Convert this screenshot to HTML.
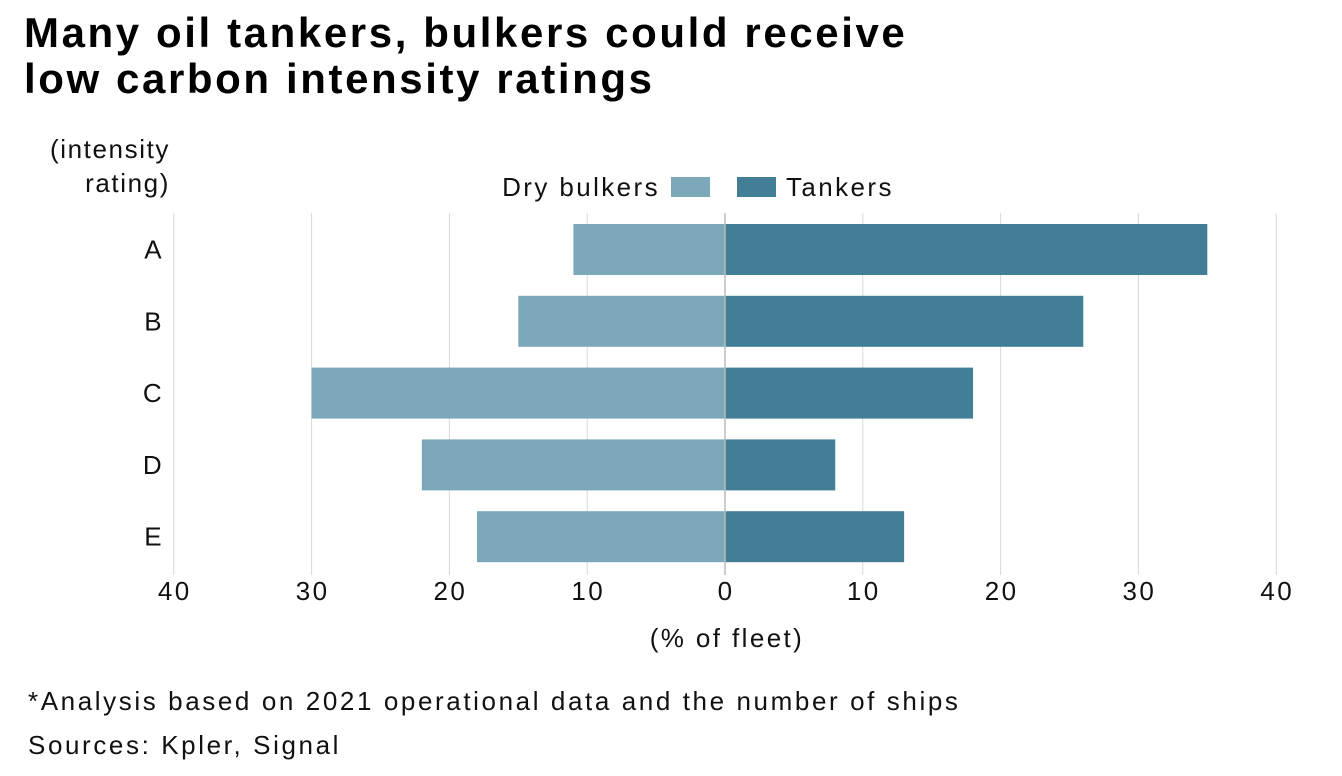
<!DOCTYPE html>
<html><head><meta charset="utf-8"><style>
body{margin:0;background:#fff;width:1342px;height:776px;overflow:hidden;font-family:"Liberation Sans",sans-serif;color:#000}
h1{position:absolute;left:24px;top:10px;margin:0;font-size:42px;line-height:46px;font-weight:bold;letter-spacing:2.6px;white-space:nowrap}
.t{position:absolute;font-size:26px;color:#111;letter-spacing:2.6px;white-space:nowrap}
svg text{letter-spacing:2.4px}
</style></head><body>
<h1>Many oil tankers, bulkers could receive<br>low carbon intensity ratings</h1>
<div class="t" style="left:20px;top:132px;text-align:right;width:150px;line-height:34px;letter-spacing:1.6px">(intensity<br>rating)</div>
<svg id="chart" width="1342" height="776" style="position:absolute;left:0;top:0"></svg>
<div class="t" style="left:28px;top:686px">*Analysis based on 2021 operational data and the number of ships</div>
<div class="t" style="left:28px;top:730px">Sources: Kpler, Signal</div>
<script>
const categories=["A","B","C","D","E"];
const dryBulkers=[11,15,30,22,18];
const tankers=[35,26,18,8,13];
const ticks=[40,30,20,10,0,10,20,30,40];
const tickValues=[-40,-30,-20,-10,0,10,20,30,40];
const NS="http://www.w3.org/2000/svg";
const svg=document.getElementById('chart');
const x0=725,scale=13.78;
function xs(v){return x0+v*scale;}
function yRow(i){return 224+i*71.8;}
const barH=51;
function mk(tag,attrs){const e=document.createElementNS(NS,tag);for(const k in attrs)e.setAttribute(k,attrs[k]);svg.appendChild(e);return e;}
tickValues.forEach((v,i)=>{
  const g=mk('line',{x1:xs(v),x2:xs(v),y1:213,y2:575,stroke:'#d9d9d9','stroke-width':1});
  
  
  const t=mk('text',{x:xs(v)+1,y:600,'text-anchor':'middle','font-size':26,fill:'#111','font-family':'Liberation Sans, sans-serif'});
  t.textContent=ticks[i];
  
  
});
categories.forEach((c,i)=>{
  const y=yRow(i);
  const b1=mk('rect',{x:xs(-dryBulkers[i]),y:y,width:dryBulkers[i]*scale,height:barH,fill:'#7ba9b9'});
  
  
  const b2=mk('rect',{x:x0,y:y,width:tankers[i]*scale,height:barH,fill:'#427f97'});
  
  
  const t=mk('text',{x:164,y:y+barH/2+9,'text-anchor':'end','font-size':26,fill:'#111','font-family':'Liberation Sans, sans-serif'});
  t.textContent=c;
  
  
});
const zl=mk('line',{x1:x0,x2:x0,y1:213,y2:575,stroke:'#bbb','stroke-width':1.5});


const xt=mk('text',{x:x0+2,y:647,'text-anchor':'middle','font-size':26,fill:'#111','font-family':'Liberation Sans, sans-serif'});
xt.textContent='(% of fleet)';


const l1=mk('text',{x:660,y:196,'text-anchor':'end','font-size':26,fill:'#111','font-family':'Liberation Sans, sans-serif'});
l1.textContent='Dry bulkers';


const s1=mk('rect',{x:671,y:177,width:39,height:20,fill:'#7ba9b9'});


const s2=mk('rect',{x:737,y:177,width:39,height:20,fill:'#427f97'});


const l2=mk('text',{x:786,y:196,'font-size':26,fill:'#111','font-family':'Liberation Sans, sans-serif'});
l2.textContent='Tankers';


</script>
</body></html>
